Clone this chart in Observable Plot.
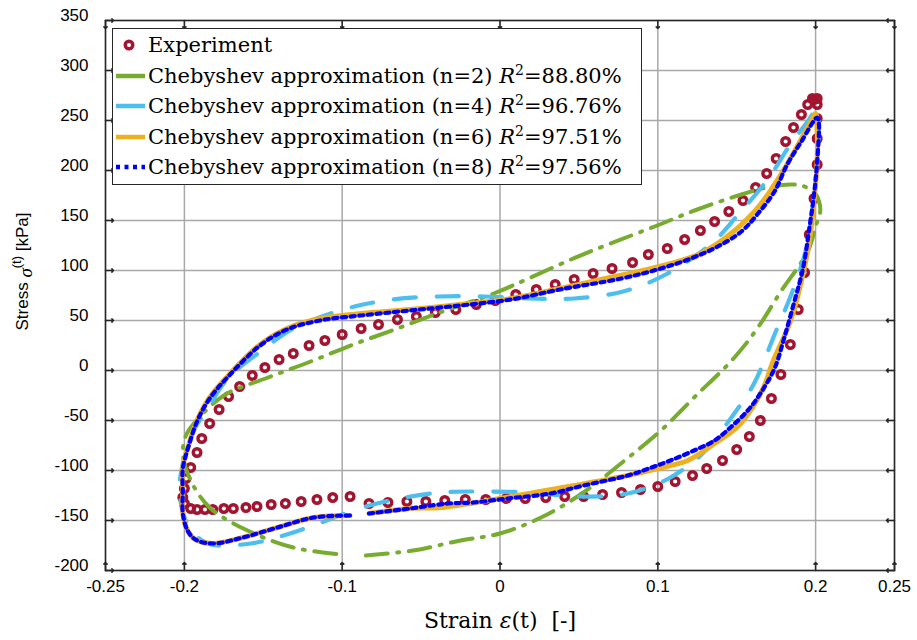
<!DOCTYPE html>
<html>
<head>
<meta charset="utf-8">
<script src="https://cdn.jsdelivr.net/npm/d3@7"></script>
<script src="https://cdn.jsdelivr.net/npm/@observablehq/plot@0.6"></script>
<style>
  body { margin: 0; background: #fff; }
  #wrap { position: relative; width: 917px; height: 640px; }
  #legend { position: absolute; left: 112px; top: 28px; width: 530px; height: 157px;
    border: 1.5px solid #262626; background: #fff; box-sizing: border-box;
    font-family: "DejaVu Serif", serif; font-size: 21px; color: #000; }
  .row { position: absolute; left: 0; height: 30px; line-height: 30px; white-space: nowrap; }
  .row svg { position: absolute; left: 2px; top: 0; }
  .row span { position: absolute; left: 35px; top: 0; }
  sup { font-size: 14px; line-height: 0; vertical-align: 8px; }
</style>
</head>
<body>
<div id="wrap"></div>
<script>
// ---------- data ----------
const xTicks = [-0.25, -0.2, -0.1, 0, 0.1, 0.2, 0.25];
const yTicks = [-200, -150, -100, -50, 0, 50, 100, 150, 200, 250, 300, 350];

const seriesNames = ["Experiment", "Chebyshev approximation (n=2)", "Chebyshev approximation (n=4)",
  "Chebyshev approximation (n=6)", "Chebyshev approximation (n=8)"];
const seriesR2 = [null, "88.80%", "96.76%", "97.51%", "97.56%"];
const seriesColors = ["#A2142F", "#77AC30", "#4DBEEE", "#EDB120", "#0000FF"];

const expX = [0.199,0.201,0.201,0.201,0.201,0.199,0.196,0.193,0.189,0.184,0.178,0.172,0.165,0.158,0.150,0.141,0.131,0.122,0.111,0.100,0.089,0.077,0.065,0.053,0.041,0.029,0.016,0.004,-0.009,-0.022,-0.035,-0.047,-0.059,-0.071,-0.083,
  -0.095,-0.106,-0.116,-0.126,-0.136,-0.145,-0.154,-0.161,-0.169,-0.175,-0.182,-0.187,-0.192,-0.196,-0.200,-0.201,-0.200,-0.199,-0.196,-0.192,-0.189,-0.184,-0.178,-0.172,-0.165,-0.157,-0.149,-0.140,-0.131,-0.121,-0.111,-0.100,-0.088,-0.077,-0.065,-0.053,-0.041,-0.028,-0.015,-0.003,0.010,0.023,0.035,0.047,0.059,0.071,0.084,0.094,0.106,0.117,0.127,0.136,0.145,0.154,0.162,0.169,0.175,0.181,0.186,0.191,0.195,0.198,0.201];
const expY = [271,266,252,232,206,172,136,98,61,26,-4,-28,-50,-66,-79,-90,-98,-105,-111,-116,-119,-122,-124,-126,-126,-127,-128,-128,-129,-129,-130,-131,-131,-132,-133,
  -126,-127,-129,-131,-133,-134,-136,-137,-138,-138,-139,-139,-139,-138,-133,-127,-118,-108,-97,-82,-68,-53,-39,-26,-16,-5,3,11,17,25,30,36,42,46,51,54,58,61,66,70,76,81,86,91,97,102,108,116,122,131,140,149,159,170,183,197,212,229,243,256,266,272,272];

const cheb2X = [-0.085,-0.055,-0.025,0.000,0.026,0.051,0.079,0.102,0.123,0.148,0.163,0.178,0.195,0.200,0.203,0.200,0.193,0.184,0.169,0.153,0.125,0.098,0.070,0.045,0.018,-0.004,-0.040,-0.065,-0.093,-0.120,-0.147,-0.175,-0.194,-0.199,-0.201,-0.196,-0.184,-0.160,-0.131,-0.101];
const cheb2Y = [-185,-180,-170,-163,-147,-124,-90,-60,-27,12,42,79,119,144,161,176,184,186,183,176,161,144,127,111,92,77,57,42,26,9,-7,-25,-53,-65,-83,-110,-137,-160,-177,-184];

const cheb4X = [-0.085,-0.067,-0.038,-0.012,0.019,0.051,0.081,0.108,0.129,0.148,0.161,0.174,0.186,0.194,0.199,0.201,0.202,0.201,0.195,0.184,0.170,0.151,0.134,0.105,0.078,0.047,0.019,-0.010,-0.039,-0.068,-0.097,-0.131,-0.150,-0.172,-0.185,-0.194,-0.201,-0.203,-0.197,-0.185,-0.158,-0.131,-0.097];
const cheb4Y = [-136,-129,-122,-121,-122,-126,-123,-107,-82,-44,-13,36,82,122,176,209,242,262,249,226,192,156,127,96,79,72,72,74,74,71,62,42,21,-7,-37,-60,-93,-123,-157,-173,-173,-162,-142];

const cheb6X = [-0.083,-0.057,-0.037,0.000,0.047,0.081,0.100,0.119,0.136,0.150,0.160,0.167,0.173,0.184,0.191,0.196,0.199,0.201,0.201,0.200,0.197,0.189,0.178,0.165,0.148,0.127,0.096,0.064,0.038,0.007,-0.025,-0.057,-0.088,-0.114,-0.135,-0.152,-0.171,-0.184,-0.192,-0.197,-0.201,-0.201,-0.201,-0.198,-0.193,-0.182,-0.163,-0.141,-0.118,-0.095];
const cheb6Y = [-143,-138,-137,-128,-115,-105,-98,-90,-73,-57,-37,-17,9,49,89,129,169,209,240,257,249,226,196,166,139,117,102,91,82,72,66,61,57,52,42,26,-3,-27,-50,-73,-97,-120,-143,-160,-169,-173,-167,-157,-147,-145];

const cheb8X = [-0.083,-0.057,-0.033,-0.017,0.005,0.032,0.053,0.081,0.096,0.108,0.123,0.136,0.146,0.157,0.165,0.174,0.180,0.186,0.192,0.196,0.199,0.201,0.202,0.201,0.191,0.182,0.174,0.163,0.153,0.138,0.121,0.102,0.077,0.038,0.007,-0.025,-0.057,-0.088,-0.114,-0.135,-0.152,-0.171,-0.184,-0.192,-0.197,-0.201,-0.201,-0.201,-0.198,-0.193,-0.182,-0.163,-0.141,-0.118,-0.095];
const cheb8Y = [-143,-138,-133,-132,-128,-123,-115,-105,-97,-90,-80,-70,-57,-40,-23,2,32,66,102,142,176,209,249,253,229,206,179,156,139,124,112,102,92,81,71,65,60,55,50,41,25,-4,-28,-51,-74,-98,-121,-143,-160,-169,-173,-167,-157,-147,-145];

// ---------- helpers ----------
const rows = (xs, ys) => xs.map((x, i) => ({x, y: ys[i]}));
const FR = "#262626";
const GRID = "#a8a8a8";
const SANS = "'Liberation Sans', Arial, Helvetica, sans-serif";

const chart = Plot.plot({
  width: 917, height: 640,
  marginLeft: 105, marginRight: 23, marginTop: 20, marginBottom: 70,
  x: {domain: [-0.25, 0.25]},
  y: {domain: [-200, 350]},
  style: {background: "#fff", fontFamily: SANS, fontSize: "17px"},
  marks: [
    Plot.gridX(xTicks, {stroke: GRID, strokeOpacity: 1, strokeWidth: 1.5}),
    Plot.gridY(yTicks, {stroke: GRID, strokeOpacity: 1, strokeWidth: 1.5}),
    Plot.axisX(xTicks, {anchor: "bottom", tickSize: 0, tickPadding: 9, tickFormat: d => String(d), fontSize: 17, fill: "#000", label: null}),
    Plot.axisY(yTicks, {anchor: "left", tickSize: 0, tickPadding: 17, dy: -5, tickFormat: d => String(d), fontSize: 17, fill: "#000", label: null}),
    Plot.dot(rows(expX, expY), {x: "x", y: "y", r: 3.8, stroke: seriesColors[0], strokeWidth: 3.4, fill: "none"}),
    Plot.line(rows(cheb2X, cheb2Y), {x: "x", y: "y", stroke: seriesColors[1], strokeWidth: 4, strokeDasharray: "22 9.5 2 9.5", curve: "catmull-rom"}),
    Plot.line(rows(cheb4X, cheb4Y), {x: "x", y: "y", stroke: seriesColors[2], strokeWidth: 4.2, strokeDasharray: "22 21", curve: "catmull-rom"}),
    Plot.line(rows(cheb6X, cheb6Y), {x: "x", y: "y", stroke: seriesColors[3], strokeWidth: 5, curve: "catmull-rom"}),
    Plot.line(rows(cheb8X, cheb8Y), {x: "x", y: "y", stroke: seriesColors[4], strokeWidth: 4.2, strokeDasharray: "4.2 4.5", curve: "catmull-rom"}),
    Plot.vectorX(xTicks, {frameAnchor: "bottom", length: 8, rotate: 0, anchor: "start", stroke: FR, strokeWidth: 1.5}),
    Plot.vectorX(xTicks, {frameAnchor: "top", length: 8, rotate: 180, anchor: "start", stroke: FR, strokeWidth: 1.5}),
    Plot.vectorY(yTicks, {frameAnchor: "left", length: 8, rotate: 90, anchor: "start", stroke: FR, strokeWidth: 1.5}),
    Plot.vectorY(yTicks, {frameAnchor: "right", length: 8, rotate: -90, anchor: "start", stroke: FR, strokeWidth: 1.5}),
    Plot.frame({stroke: FR, strokeWidth: 1.5}),
    Plot.text(["Strain"], {frameAnchor: "bottom", dy: 50, textAnchor: "middle", lineAnchor: "middle", fontSize: 22, fontFamily: "DejaVu Serif", fill: "#000", className: "xlab"}),
    Plot.text(["Stress"], {frameAnchor: "left", dx: -83, dy: -24, rotate: -90, textAnchor: "middle", lineAnchor: "middle", fontSize: 17, fill: "#000", className: "ylab"})
  ]
});
document.getElementById("wrap").appendChild(chart);

// make sure the tick labels use the MATLAB-like sans face and size
d3.select(chart).selectAll("g[aria-label$='tick label'] text")
  .attr("font-family", SANS).attr("font-size", 17);

// rich axis titles
const xl = d3.select(chart).select("g.xlab text").text(null);
xl.append("tspan").text("Strain ");
xl.append("tspan").attr("font-style", "italic").text("ε");
xl.append("tspan").text("(t)  [-]");

const yl = d3.select(chart).select("g.ylab text").text(null);
yl.append("tspan").text("Stress ");
yl.append("tspan").attr("font-family", "Liberation Serif").attr("font-style", "italic").attr("font-size", 19).attr("dy", 4).text("σ");
yl.append("tspan").attr("font-size", 13).attr("dy", -11).text("(t)");
yl.append("tspan").attr("dy", 7).text(" [kPa]");

// legend
const legend = document.createElement("div");
legend.id = "legend";
const swatch = [
  `<svg width="30" height="30"><circle cx="14" cy="15" r="3.8" fill="none" stroke="${seriesColors[0]}" stroke-width="3.4"/></svg>`,
  `<svg width="30" height="30"><line x1="1" x2="31" y1="15" y2="15" stroke="${seriesColors[1]}" stroke-width="4.5"/></svg>`,
  `<svg width="30" height="30"><line x1="1" x2="31" y1="15" y2="15" stroke="${seriesColors[2]}" stroke-width="4.5"/></svg>`,
  `<svg width="30" height="30"><line x1="1" x2="31" y1="15" y2="15" stroke="${seriesColors[3]}" stroke-width="4.5"/></svg>`,
  `<svg width="30" height="30"><line x1="1" x2="33" y1="15" y2="15" stroke="${seriesColors[4]}" stroke-width="4.5" stroke-dasharray="4 4.5"/></svg>`
];
seriesNames.forEach((name, i) => {
  const r = document.createElement("div");
  r.className = "row";
  r.style.top = (1 + i * 30.5) + "px";
  const label = seriesR2[i] ? `${name} <i>R</i><sup>2</sup>=${seriesR2[i]}` : name;
  r.innerHTML = swatch[i] + `<span>${label}</span>`;
  legend.appendChild(r);
});
document.getElementById("wrap").appendChild(legend);
</script>
</body>
</html>
